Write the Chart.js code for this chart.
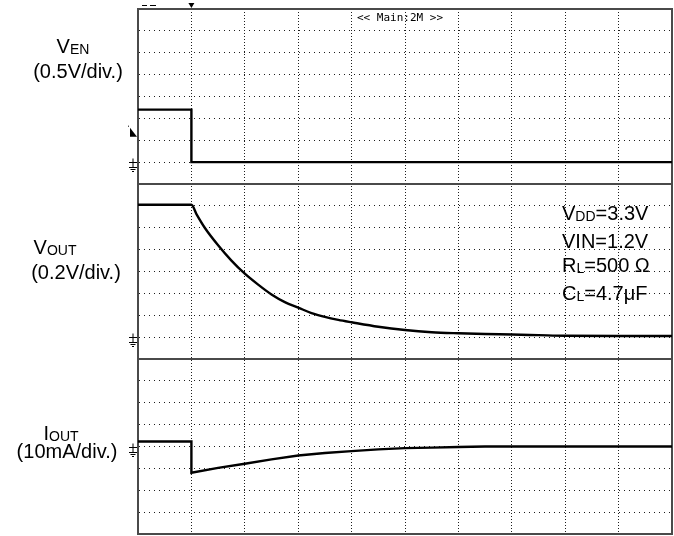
<!DOCTYPE html>
<html><head><meta charset="utf-8">
<script src="https://cdn.jsdelivr.net/npm/chart.js@4.4.1/dist/chart.umd.min.js"></script>
<style>
html,body{margin:0;padding:0;background:#fff;overflow:hidden}
#wrap{position:relative;width:674px;height:536px}
#c{position:absolute;left:0;top:0}
.t{position:absolute;font-family:"Liberation Sans",Arial,Helvetica,sans-serif;font-size:20px;line-height:20px;color:#000;white-space:nowrap}
.c{transform:translateX(-50%)}
.s{font-size:14px;vertical-align:-1px}
.ann{line-height:24.5px}
.scope{position:absolute;font-family:"DejaVu Sans Mono",monospace;font-size:11px;line-height:11px;color:#000;white-space:pre}
</style></head><body>
<div id="wrap">
<canvas id="c" width="674" height="536"></canvas>
<div class="t c" style="left:73px;top:36px">V<span class="s">EN</span></div>
<div class="t c" style="left:78px;top:61px">(0.5V/div.)</div>
<div class="t c" style="left:55px;top:237px">V<span class="s">OUT</span></div>
<div class="t c" style="left:76px;top:262px">(0.2V/div.)</div>
<div class="t c" style="left:61px;top:423px">I<span class="s">OUT</span></div>
<div class="t c" style="left:67px;top:441px">(10mA/div.)</div>
<div class="t ann" style="left:562px;top:201px">V<span class="s">DD</span>=3.3V<br>VIN=1.2V<br>R<span class="s">L</span>=500 Ω<br>C<span class="s">L</span>=4.7μF</div>
<div class="scope" style="left:357px;top:12px">&lt;&lt; Main:2M &gt;&gt;</div>
</div>
<script>
// time axis in divisions (10 div screen), trigger at 1 div
const venTime  = [0, 1, 1, 10];
const venVolts = [1.2, 1.2, 0, 0];

const voutTime  = [0, 1, 1.1, 1.25, 1.5, 1.75, 2, 2.25, 2.5, 2.75, 3, 3.25, 3.5, 3.75, 4, 4.5, 5, 5.5, 6, 6.5, 7, 7.5, 8, 9, 10];
const voutVolts = [1.21, 1.21, 1.12, 1.00, 0.84, 0.70, 0.58, 0.48, 0.39, 0.32, 0.27, 0.22, 0.185, 0.158, 0.136, 0.095, 0.065, 0.045, 0.035, 0.028, 0.024, 0.018, 0.012, 0.01, 0.01];

const ioutTime = [0, 1, 1, 1.5, 2, 2.5, 3, 3.5, 4, 4.5, 5, 5.5, 6, 6.5, 7, 10];
const ioutmA   = [2.3, 2.3, -12.0, -9.8, -7.9, -5.9, -4.1, -3.0, -2.1, -1.3, -0.75, -0.5, -0.2, 0, 0, 0];

const triggerLevelV = 0.65;
const triggerTimeDiv = 1;

function pts(xs, ys){ return xs.map((x,i)=>({x:x, y:ys[i]})); }

const gridColor = '#1e1e1e';
const frameColor = '#4a4a4a';

const scopeDecor = {
  id: 'scopeDecor',
  beforeDatasetsDraw(chart){
    const {ctx, chartArea:a, scales} = chart;
    ctx.save();
    ctx.strokeStyle = frameColor;
    ctx.lineWidth = 2;
    ctx.strokeRect(a.left, a.top, a.right - a.left, a.bottom - a.top);
    [scales.yVOUT.top, scales.yIOUT.top].forEach(y=>{
      ctx.beginPath(); ctx.moveTo(a.left, y); ctx.lineTo(a.right, y); ctx.stroke();
    });
    ctx.restore();
  },
  afterDraw(chart){
    const {ctx, chartArea:a, scales} = chart;
    ctx.save();
    ctx.strokeStyle = '#000';
    ctx.fillStyle = '#000';
    ctx.lineWidth = 1;
    ['yEN','yVOUT','yIOUT'].forEach(id=>{
      const gy = Math.round(scales[id].getPixelForValue(0)) + 0.5;
      const x0 = a.left - 9;
      ctx.beginPath();
      ctx.moveTo(x0, gy); ctx.lineTo(a.left - 1, gy);
      ctx.moveTo(x0 + 4, gy - 4); ctx.lineTo(x0 + 4, gy + 5);
      ctx.moveTo(x0, gy + 5); ctx.lineTo(x0 + 8, gy + 5);
      ctx.moveTo(x0 + 1.5, gy + 7); ctx.lineTo(x0 + 6.5, gy + 7);
      ctx.moveTo(x0 + 3, gy + 9); ctx.lineTo(x0 + 5, gy + 9);
      ctx.stroke();
    });
    // trigger level marker
    const ty = scales.yEN.getPixelForValue(triggerLevelV);
    ctx.beginPath();
    ctx.moveTo(a.left - 8, ty - 6);
    ctx.lineTo(a.left - 1, ty + 3);
    ctx.lineTo(a.left - 8, ty + 3);
    ctx.closePath(); ctx.fill();
    ctx.fillRect(a.left - 10, ty - 8, 1, 1);
    // trigger position marker
    const tx = scales.x.getPixelForValue(triggerTimeDiv);
    ctx.beginPath();
    ctx.moveTo(tx - 3, a.top - 6); ctx.lineTo(tx + 3, a.top - 6); ctx.lineTo(tx, a.top - 1);
    ctx.closePath(); ctx.fill();
    ctx.fillRect(a.left + 4, a.top - 4, 5, 1);
    ctx.fillRect(a.left + 12, a.top - 4, 6, 1);
    ctx.restore();
  }
};

const yCommon = (min, max, step) => ({
  type: 'linear', position: 'left', stack: 'scope', stackWeight: 1,
  min: min, max: max,
  ticks: {display: false, stepSize: step},
  grid: {color: gridColor, lineWidth: 1, drawTicks: false},
  border: {display: true, color: frameColor, width: 2, dash: [1, 4]}
});

new Chart(document.getElementById('c'), {
  type: 'line',
  data: {
    datasets: [
      {label: 'VEN', data: pts(venTime, venVolts), yAxisID: 'yEN', borderColor: '#000', borderWidth: 2.4, pointRadius: 0, tension: 0},
      {label: 'VOUT', data: pts(voutTime, voutVolts), yAxisID: 'yVOUT', borderColor: '#000', borderWidth: 2.4, pointRadius: 0, cubicInterpolationMode: 'monotone'},
      {label: 'IOUT', data: pts(ioutTime, ioutmA), yAxisID: 'yIOUT', borderColor: '#000', borderWidth: 2.4, pointRadius: 0, tension: 0}
    ]
  },
  options: {
    responsive: false,
    devicePixelRatio: 1,
    animation: false,
    events: [],
    layout: {padding: {left: 138, top: 9, right: 2, bottom: 2}},
    plugins: {legend: {display: false}, tooltip: {enabled: false}},
    scales: {
      x: {
        type: 'linear', min: 0, max: 10,
        ticks: {display: false, stepSize: 1},
        grid: {color: gridColor, lineWidth: 1, drawTicks: false},
        border: {display: true, color: frameColor, width: 2, dash: [1, 2]}
      },
      yIOUT: yCommon(-40, 40, 10),
      yVOUT: yCommon(-0.2, 1.4, 0.2),
      yEN: yCommon(-0.5, 3.5, 0.5)
    }
  },
  plugins: [scopeDecor]
});
</script>
</body></html>
